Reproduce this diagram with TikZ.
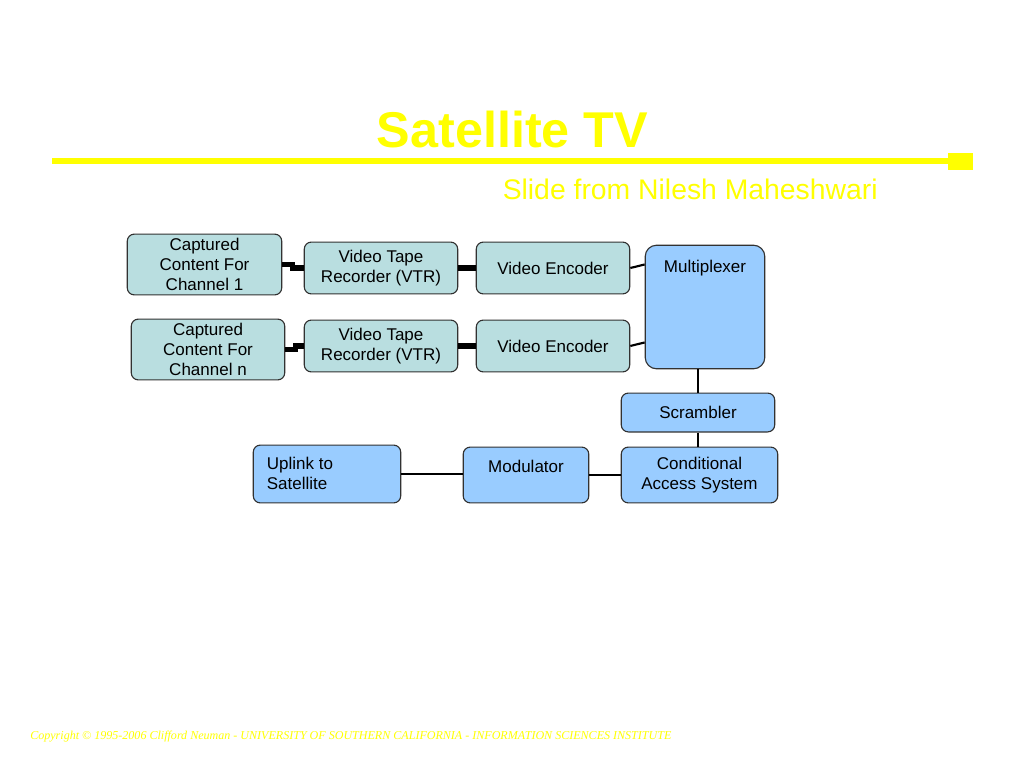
\documentclass[tikz,border=0pt]{standalone}
\usepackage{fontspec}
\setmainfont{Liberation Sans}
\newfontfamily\footfont{Liberation Serif}
\usepackage{tikz}
\usetikzlibrary{positioning}
\definecolor{slideyellow}{RGB}{255,255,0}
\definecolor{tealfill}{RGB}{185,222,224}
\definecolor{bluefill}{RGB}{153,204,255}
\definecolor{edgegray}{RGB}{50,50,50}
\tikzset{
  boxsize/.style 2 args={minimum width=#1*0.7031pt, minimum height=#2*0.7031pt},
  unit/.style={draw=edgegray, line width=0.8pt, rounded corners=5pt, inner sep=0pt,
    align=center, font=\fontsize{12}{14}\selectfont},
  tealbox/.style={unit, fill=tealfill},
  bluebox/.style={unit, fill=bluefill},
  bus/.style={line width=3.6pt},
  wire/.style={line width=1.5pt},
}
\begin{document}
\begin{tikzpicture}[x=0.0248cm, y=-0.0248cm]
\useasboundingbox[fill=white] (0,0) rectangle (1024,768);
% Title
\node[anchor=base, text=slideyellow, font=\fontsize{35.5}{40}\selectfont\bfseries] (title) at (512.5,148) {Satellite TV};
\draw[slideyellow, line width=3.6pt] (52,161) -- (950,161);
\fill[slideyellow] (948,153) rectangle (973,170);
\node[anchor=base east, inner sep=0pt, text=slideyellow, font=\fontsize{20}{24}\selectfont] (credit) at (878,199) {Slide from Nilesh Maheshwari};
% Capture chain, channel 1 and channel n
\node[tealbox, boxsize={155}{61}] (cap1) at (204.5,264.5) {Captured\\Content For\\Channel 1};
\node[tealbox, boxsize={154}{52}] (vtr1) at (381,268) {Video Tape\\Recorder (VTR)};
\node[tealbox, boxsize={154}{52}] (enc1) at (553,268) {Video Encoder};
\node[tealbox, boxsize={154}{61}] (cap2) at (208,349.5) {Captured\\Content For\\Channel n};
\node[tealbox, boxsize={154}{52}] (vtr2) at (381,346) {Video Tape\\Recorder (VTR)};
\node[tealbox, boxsize={154}{52}] (enc2) at (553,346) {Video Encoder};
% Head end
\node[bluebox, rounded corners=8pt, boxsize={120}{124},
  label={[anchor=base, yshift=-19.7pt, font=\fontsize{12}{14}\selectfont]north:Multiplexer}] (mux) at (705,307) {};
\node[bluebox, boxsize={154}{39}] (scr) at (698,412.5) {Scrambler};
\node[bluebox, boxsize={157}{56}] (cas) at (699.5,475) {Conditional\\Access System};
\node[bluebox, boxsize={126}{56},
  label={[anchor=base, yshift=-18.3pt, font=\fontsize{12}{14}\selectfont]north:Modulator}] (mod) at (526,475) {};
\node[bluebox, boxsize={148}{58},
  label={[anchor=north west, align=left, xshift=9.8pt, yshift=-9pt, inner sep=0pt, font=\fontsize{12}{14}\selectfont]north west:Uplink to\\Satellite}] (up) at (327,474) {};
% Links
\draw[bus] (cap1.east) -- ++(10,0) |- (vtr1.west);
\draw[bus] (cap2.east) -- ++(10,0) |- (vtr2.west);
\draw[bus] (vtr1) -- (enc1);
\draw[bus] (vtr2) -- (enc2);
\draw[wire] (enc1.east) -- ([yshift=30pt]mux.west);
\draw[wire] (enc2.east) -- ([yshift=-25pt]mux.west);
\draw[wire] (scr.north) -- (scr.north |- mux.south);
\draw[wire] (scr.south) -- (scr.south |- cas.north);
\draw[wire] (cas.west) -- (cas.west -| mod.east);
\draw[wire] (up.east) -- (up.east -| mod.west);
% Footer
\node[anchor=base west, inner sep=0pt, text=slideyellow, font=\footfont\itshape\fontsize{8.5}{10}\selectfont] (copy) at (30,739) {Copyright \copyright{} 1995-2006 Clifford Neuman - UNIVERSITY OF SOUTHERN CALIFORNIA - INFORMATION SCIENCES INSTITUTE};
\end{tikzpicture}
\end{document}
